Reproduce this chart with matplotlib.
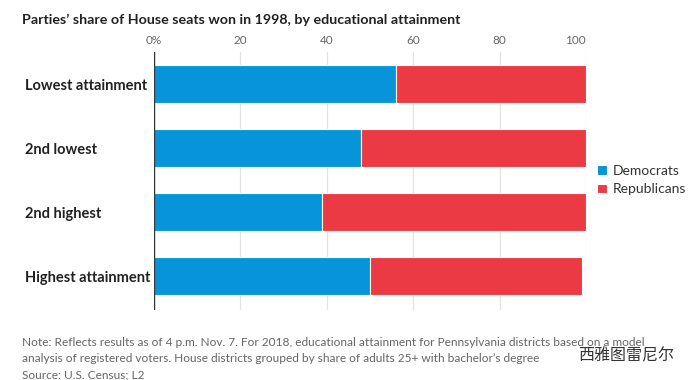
import matplotlib.pyplot as plt
import numpy as np

categories = ['Lowest attainment', '2nd lowest', '2nd highest', 'Highest attainment']
democrats = [56, 48, 39, 50]
republicans = [44, 52, 61, 49]
x_ticks = [0, 20, 40, 60, 80, 100]
x_tick_labels = ['0%', '20', '40', '60', '80', '100']

title = 'Parties\u2019 share of House seats won in 1998, by educational attainment'
note_lines = [
    'Note: Reflects results as of 4 p.m. Nov. 7. For 2018, educational attainment for Pennsylvania districts based on a model',
    'analysis of registered voters. House districts grouped by share of adults 25+ with bachelor\u2019s degree',
    'Source: U.S. Census; L2',
]
watermark = '西雅图雷尼尔'

BLUE = '#0794d8'
RED = '#ec3a44'

plt.rcParams['font.family'] = ['Lato', 'DejaVu Sans']

fig = plt.figure(figsize=(7, 3.8), dpi=100)
ax = fig.add_axes([154 / 700, 1 - 310 / 380, (586 - 154) / 700, (310 - 52) / 380])

y = np.arange(len(categories))
ax.barh(y, democrats, height=0.6, color=BLUE, edgecolor='white', linewidth=0.8, label='Democrats', zorder=3)
ax.barh(y, republicans, left=democrats, height=0.6, color=RED, edgecolor='white', linewidth=0.8,
        label='Republicans', zorder=3)

ax.set_xlim(0, 100)
ax.set_ylim(3.53, -0.5)
ax.set_xticks(x_ticks)
ax.set_xticklabels(x_tick_labels)
ax.xaxis.tick_top()
ax.tick_params(axis='x', length=0, pad=4, labelsize=8.5, labelcolor='#666666')
ax.get_xticklabels()[-1].set_ha('right')
ax.set_yticks(y)
ax.set_yticklabels(categories, fontweight='bold', fontsize=10.5, color='#222222', ha='left')
ax.tick_params(axis='y', length=0, pad=(154 - 25) * 0.72)
ax.grid(axis='x', color='#e2e2e2', linewidth=0.9, zorder=0)
for s in ax.spines.values():
    s.set_visible(False)
ax.axvline(0, color='#333333', linewidth=1, zorder=4)

ax.legend(loc='upper left', bbox_to_anchor=(597 / 700, 1 - 165 / 380), bbox_transform=fig.transFigure,
          frameon=False, fontsize=10, handlelength=0.7, handleheight=0.7, handletextpad=0.4,
          labelspacing=0.45, borderaxespad=0, borderpad=0, labelcolor='#333333')

fig.text(22 / 700, 1 - 20 / 380, title, fontsize=10.3, fontweight='bold', color='#222222', va='center')
for i, line in enumerate(note_lines):
    fig.text(22 / 700, 1 - (343 + 16 * i) / 380, line, fontsize=8.6, color='#666666', va='center')
fig.text(578 / 700, 1 - 356 / 380, watermark, fontsize=11.5, color='#333333', va='center',
         family=['Noto Sans CJK SC', 'DejaVu Sans'])

fig.savefig('out.png', dpi=100)
